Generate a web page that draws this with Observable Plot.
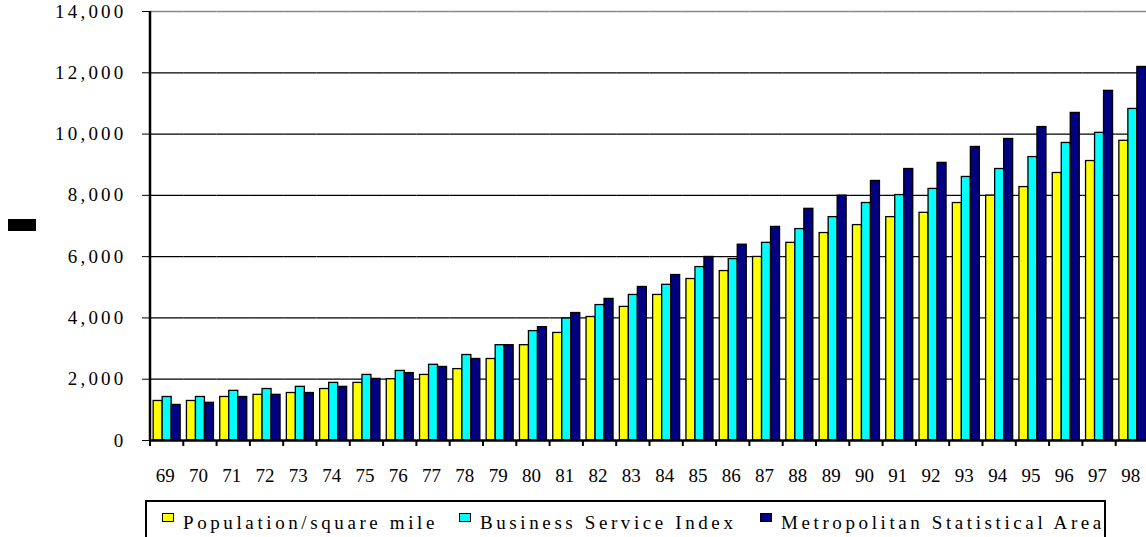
<!DOCTYPE html>
<html>
<head>
<meta charset="utf-8">
<script src="https://cdn.jsdelivr.net/npm/d3@7"></script>
<script src="https://cdn.jsdelivr.net/npm/@observablehq/plot@0.6"></script>
<style>
  html, body { margin: 0; padding: 0; background: #fff; overflow: hidden; }
  #wrap { position: relative; width: 1146px; height: 537px; font-family: "Liberation Serif", "DejaVu Serif", serif; }
  #chart svg text { letter-spacing: 3.2px; font-family: "Liberation Serif", "DejaVu Serif", serif; }
  #ytitle { position: absolute; left: 8px; top: 219px; width: 28px; height: 12px; background: #000; }
  #legend { position: absolute; left: 145px; top: 500px; width: 957px; height: 35px; border: 2px solid #000; box-sizing: content-box;
            font-size: 19px; letter-spacing: 3.6px; color: #000; white-space: nowrap; font-family: "Liberation Serif", "DejaVu Serif", serif; }
  .item { position: absolute; top: 11px; }
  .sw { position: absolute; top: 0px; width: 10px; height: 7px; border: 1.5px solid #000; }
  .lbl { position: absolute; top: -1px; left: 21px; }
</style>
</head>
<body>
<div id="wrap">
  <div id="chart"></div>
  <div id="ytitle"></div>
  <div id="legend"></div>
</div>
<script>
const years = ["69","70","71","72","73","74","75","76","77","78","79","80","81","82","83","84","85","86","87","88","89","90","91","92","93","94","95","96","97","98"];
const seriesNames = ["Population/square mile", "Business Service Index", "Metropolitan Statistical Area"];
const seriesColors = ["#FFFF00", "#00FFFF", "#000080"];
const population = [1290,1290,1420,1490,1550,1680,1880,2000,2140,2330,2660,3110,3510,4030,4360,4750,5270,5530,5990,6450,6770,7030,7290,7430,7750,7990,8270,8730,9120,9780];
const businessIndex = [1420,1420,1620,1680,1750,1880,2140,2270,2470,2790,3110,3570,3980,4420,4750,5080,5660,5920,6450,6900,7290,7750,8010,8210,8600,8860,9250,9710,10040,10820];
const metroArea = [1160,1230,1420,1490,1550,1750,2010,2200,2400,2660,3110,3700,4160,4620,5010,5400,5990,6390,6970,7560,7990,8470,8860,9060,9580,9840,10230,10690,11410,12190];
const yTicks = [0,2000,4000,6000,8000,10000,12000,14000];

const seriesValues = [population, businessIndex, metroArea];
const rows = [];
years.forEach((yr, i) => {
  seriesNames.forEach((s, j) => rows.push({year: yr, series: s, value: seriesValues[j][i]}));
});

const chart = Plot.plot({
  width: 1146,
  height: 490,
  marginLeft: 150,
  marginRight: -3,
  marginTop: 11,
  marginBottom: 50,
  style: {fontFamily: "Liberation Serif", fontSize: "19px", color: "#000", background: "#fff"},
  facet: {data: rows, x: "year"},
  fx: {domain: years, paddingInner: 0, paddingOuter: 0, round: false, label: null, tickSize: 0, tickPadding: 28},
  x: {domain: seriesNames, paddingInner: 0, paddingOuter: 0.35, round: false, axis: null},
  y: {domain: [0, 14000], ticks: yTicks, tickFormat: d3.format(","), tickSize: 8, tickPadding: 16, label: null},
  color: {domain: seriesNames, range: seriesColors},
  marks: [
    Plot.ruleY(yTicks.filter(d => d > 0 && d < 14000), {stroke: "#000", strokeWidth: 1.2}),
    Plot.ruleY([14000], {stroke: "#888", strokeWidth: 1.5}),
    Plot.barY(rows, {x: "series", y: "value", fill: "series", stroke: "#000", strokeWidth: 1.3}),
    Plot.ruleY([0], {stroke: "#000", strokeWidth: 2.5})
  ]
});
document.getElementById("chart").appendChild(chart);

const fx = chart.scale("fx");
const yS = chart.scale("y");
const svg = d3.select(chart);
const y0 = yS.apply(0);
const edges = years.map(d => fx.apply(d)).concat([fx.apply(years[years.length - 1]) + fx.bandwidth]);
// category boundary ticks
svg.append("g")
  .selectAll("line")
  .data(edges)
  .join("line")
  .attr("x1", d => d).attr("x2", d => d)
  .attr("y1", y0).attr("y2", y0 + 6)
  .attr("stroke", "#000").attr("stroke-width", 2);
// y axis line
svg.append("line")
  .attr("x1", fx.range[0]).attr("x2", fx.range[0])
  .attr("y1", yS.apply(14000)).attr("y2", y0 + 1)
  .attr("stroke", "#000").attr("stroke-width", 2.5);

svg.selectAll('g[aria-label="fx-axis tick label"] text, g[aria-label="fx-axis"] text').style("letter-spacing", "0px").attr("dx", -2);

const legend = d3.select("#legend");
const offsets = [15, 312, 613];
seriesNames.forEach((s, i) => {
  const it = legend.append("div").attr("class", "item").style("left", offsets[i] + "px");
  it.append("div").attr("class", "sw").style("background", seriesColors[i]);
  it.append("span").attr("class", "lbl").text(s);
});
</script>
</body>
</html>
